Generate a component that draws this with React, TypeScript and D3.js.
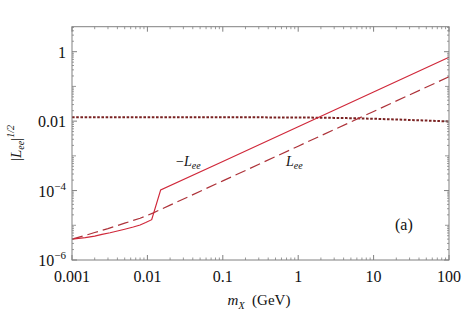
import React from 'react';
import * as d3 from 'd3';

// -L_ee (solid)
const solidX = [0.001, 0.0015, 0.002, 0.0025, 0.0032, 0.004, 0.005, 0.0065, 0.008, 0.0095, 0.0114, 0.015, 0.1, 1, 10, 100];
const solidY = [4.0e-6, 4.4e-6, 4.9e-6, 5.45e-6, 6.1e-6, 6.85e-6, 7.7e-6, 8.9e-6, 1.02e-5, 1.2e-5, 1.45e-5, 1.05e-4, 6.9e-4, 6.9e-3, 0.069, 0.69];

// L_ee (dashed)
const dashX = [0.001, 0.0015, 0.002, 0.003, 0.004, 0.005, 0.0065, 0.008, 0.01, 0.012, 0.02, 0.1, 1, 10, 100];
const dashY = [4.0e-6, 5.1e-6, 6.2e-6, 8.0e-6, 9.8e-6, 1.15e-5, 1.38e-5, 1.6e-5, 1.93e-5, 2.28e-5, 3.8e-5, 1.9e-4, 1.9e-3, 0.019, 0.19];

// dotted bound
const dotX = [0.001, 0.01, 0.1, 1, 3, 10, 30, 100];
const dotY = [0.0129, 0.0129, 0.0129, 0.0127, 0.0124, 0.0117, 0.0108, 0.0098];

const xTicks = [0.001, 0.01, 0.1, 1, 10, 100];
const xTickLabels = ['0.001', '0.01', '0.1', '1', '10', '100'];
const yTicks = [1e-6, 1e-4, 0.01, 1];

const W = 463, H = 317;
const left = 72, right = 449, top = 26.7, bottom = 260;
const FONT = 'Liberation Serif, DejaVu Serif, serif';

export default function App() {
  const x = d3.scaleLog().domain([0.001, 100]).range([left, right]);
  const y = d3.scaleLog().domain([1e-6, Math.pow(10, 0.72)]).range([bottom, top]);

  const line = d3.line<[number, number]>()
    .x(d => x(d[0]))
    .y(d => y(d[1]));

  const solid = line(solidX.map((v, i) => [v, solidY[i]]))!;
  const dashed = line(dashX.map((v, i) => [v, dashY[i]]))!;
  const dotted = d3.line<[number, number]>()
    .x(d => x(d[0]))
    .y(d => y(d[1]))
    .curve(d3.curveMonotoneX)(dotX.map((v, i) => [v, dotY[i]]))!;

  // minor ticks
  const xMinor: number[] = [];
  for (let e = -3; e < 2; e++) for (let k = 2; k <= 9; k++) xMinor.push(k * Math.pow(10, e));
  const yMinor: number[] = [];
  for (let e = -6; e <= 0; e++) for (let k = 1; k <= 9; k++) {
    const v = k * Math.pow(10, e);
    if (v <= y.domain()[1] && !yTicks.includes(v)) yMinor.push(v);
  }

  const frame = '#808080';

  const supLabel = (v: number) => {
    const e = Math.round(Math.log10(v));
    if (v === 1) return <tspan>1</tspan>;
    if (v === 0.01) return <tspan>0.01</tspan>;
    return (
      <>
        <tspan>10</tspan>
        <tspan dy={-7} fontSize={11}>{'\u2212' + Math.abs(e)}</tspan>
      </>
    );
  };

  return (
    <svg width={W} height={H} style={{ position: 'absolute', left: 0, top: 0, background: '#fff', fontFamily: FONT }}>
      <rect x={0} y={0} width={W} height={H} fill="#fff" />
      {/* curves */}
      <path d={dotted} fill="none" stroke="#7a2222" strokeWidth={2} strokeDasharray="2.6,1.6" />
      <path d={dashed} fill="none" stroke="#ad3239" strokeWidth={1.2} strokeDasharray="11,5" />
      <path d={solid} fill="none" stroke="#d0283a" strokeWidth={1.2} />

      {/* frame */}
      <rect x={left} y={top} width={right - left} height={bottom - top} fill="none" stroke={frame} strokeWidth={1} />

      {/* x ticks */}
      {xTicks.map(t => (
        <g key={'xt' + t}>
          <line x1={x(t)} x2={x(t)} y1={bottom} y2={bottom - 5} stroke={frame} />
          <line x1={x(t)} x2={x(t)} y1={top} y2={top + 5} stroke={frame} />
        </g>
      ))}
      {xMinor.map(t => (
        <g key={'xm' + t}>
          <line x1={x(t)} x2={x(t)} y1={bottom} y2={bottom - 2.5} stroke={frame} strokeWidth={0.8} />
          <line x1={x(t)} x2={x(t)} y1={top} y2={top + 2.5} stroke={frame} strokeWidth={0.8} />
        </g>
      ))}
      {/* y ticks */}
      {yTicks.map(t => (
        <g key={'yt' + t}>
          <line x1={left} x2={left + 5} y1={y(t)} y2={y(t)} stroke={frame} />
          <line x1={right} x2={right - 5} y1={y(t)} y2={y(t)} stroke={frame} />
        </g>
      ))}
      {yMinor.map(t => {
        const mid = Math.abs(Math.log10(t) - Math.round(Math.log10(t))) < 1e-9;
        const len = mid ? 4 : 2;
        return (
          <g key={'ym' + t}>
            <line x1={left} x2={left + len} y1={y(t)} y2={y(t)} stroke={frame} strokeWidth={0.8} />
            <line x1={right} x2={right - len} y1={y(t)} y2={y(t)} stroke={frame} strokeWidth={0.8} />
          </g>
        );
      })}

      {/* x tick labels */}
      {xTicks.map((t, i) => (
        <text key={'xl' + t} x={x(t)} y={282} textAnchor="middle" fontSize={16} fill="#111" style={{ fontFamily: FONT }}>
          {xTickLabels[i]}
        </text>
      ))}
      {/* y tick labels */}
      {yTicks.map(t => (
        <text key={'yl' + t} x={66} y={y(t) + 6} textAnchor="end" fontSize={16} fill="#111" style={{ fontFamily: FONT }}>
          {supLabel(t)}
        </text>
      ))}

      {/* axis titles */}
      <text x={259} y={305} textAnchor="middle" fontSize={15} fill="#111" style={{ fontFamily: FONT }}>
        <tspan fontStyle="italic">m</tspan>
        <tspan fontStyle="italic" fontSize={10} dy={4}>X</tspan>
        <tspan dy={-4}>{'\u2002(GeV)'}</tspan>
      </text>
      <text transform={`translate(21,143) rotate(-90)`} textAnchor="middle" fontSize={15} fill="#111" style={{ fontFamily: FONT }}>
        <tspan>|</tspan>
        <tspan fontStyle="italic">L</tspan>
        <tspan fontStyle="italic" fontSize={10} dy={3}>ee</tspan>
        <tspan dy={-3}>|</tspan>
        <tspan fontSize={10} dy={-7} fontStyle="italic">1/2</tspan>
      </text>

      {/* curve labels */}
      <text x={176} y={166} fontSize={14} fill="#111" style={{ fontFamily: FONT }}>
        <tspan>{'\u2212'}</tspan>
        <tspan fontStyle="italic">L</tspan>
        <tspan fontStyle="italic" fontSize={10} dy={3}>ee</tspan>
      </text>
      <text x={286} y={166} fontSize={14} fill="#111" style={{ fontFamily: FONT }}>
        <tspan fontStyle="italic">L</tspan>
        <tspan fontStyle="italic" fontSize={10} dy={3}>ee</tspan>
      </text>
      <text x={395} y={230} fontSize={16} fill="#111" style={{ fontFamily: FONT }}>(a)</text>
    </svg>
  );
}
